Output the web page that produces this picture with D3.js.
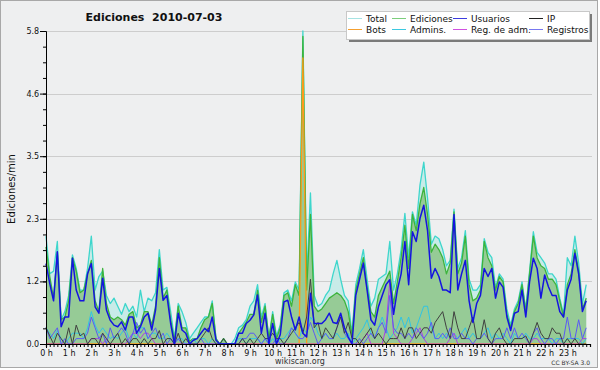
<!DOCTYPE html>
<html lang="es">
<head>
<meta charset="UTF-8">
<script src="https://cdn.jsdelivr.net/npm/d3@7"></script>
<style>
    body { margin: 0; background: #ffffff; }
    svg text { font-family: "DejaVu Sans", Verdana, sans-serif; fill: #111; }
</style>
</head>
<body>
<div id="chart"></div>
<script>
    // data: edits per minute, one value per 10 minutes (144 slots)
    const hourLabels = ["0 h","1 h","2 h","3 h","4 h","5 h","6 h","7 h","8 h","9 h","10 h","11 h",
        "12 h","13 h","14 h","15 h","16 h","17 h","18 h","19 h","20 h","21 h","22 h","23 h"];
    const yTicks = [0, 1.16, 2.32, 3.48, 4.64, 5.8];
    const yTickLabels = ["0.0", "1.2", "2.3", "3.5", "4.6", "5.8"];

    const total = [2.0,1.3,1.35,1.9,0.45,0.6,0.9,1.65,1.4,1.0,1.0,1.4,2.0,1.0,1.25,1.35,0.9,0.75,0.85,0.7,0.55,0.75,0.6,0.7,0.5,1.0,0.6,0.85,0.8,0.95,
        1.75,1.0,1.05,0.6,0.1,0.75,0.6,0.4,0.1,0.2,0.3,0.4,0.5,0.5,0.8,0.1,0,0.1,0,0,0.1,0.3,0.35,0.45,0.7,0.8,1.1,0.5,0.75,0.1,
        0.6,0.15,0.35,0.95,1.0,0.8,1.15,1.0,5.8,1.2,2.8,0.9,0.7,0.75,0.9,1.0,1.3,1.55,1.2,0.9,0.8,0.2,1.1,1.4,1.75,1.2,0.7,0.85,1.2,1.25,
        1.3,1.9,1.0,1.3,1.75,2.42,1.6,2.45,2.2,2.95,3.37,2.7,1.85,2.0,1.95,1.75,1.45,1.55,2.5,1.4,1.6,2.1,1.2,1.0,1.0,1.1,1.95,1.7,1.6,1.05,
        1.3,1.2,0.65,0.35,0.65,0.8,1.15,0.65,1.35,2.08,1.7,1.6,1.5,1.3,1.3,1.2,0.85,0.55,1.6,1.45,2.0,1.5,0.75,1.1];
    const ediciones = [1.8,1.25,0.85,1.7,0.45,0.5,0.8,1.6,1.35,0.95,1.0,1.3,1.55,0.8,0.6,1.4,0.75,0.5,0.45,0.5,0.45,0.35,0.55,0.6,0.3,0.35,0.6,0.6,0.35,0.7,
        1.6,0.85,1.0,0.45,0.05,0.7,0.3,0.3,0.05,0.1,0.1,0.3,0.45,0.5,0.75,0.1,0,0.1,0,0,0,0.2,0.3,0.4,0.55,0.55,1.0,0.4,0.7,0.1,
        0.55,0.1,0.3,0.9,0.95,0.7,1.1,0.9,5.7,1.0,2.4,0.7,0.6,0.65,0.75,0.85,0.9,0.95,0.9,0.8,0.6,0.15,1.0,1.3,1.6,1.05,0.6,0.5,0.9,1.05,
        1.2,1.35,0.75,1.15,1.6,2.2,1.4,2.4,2.1,2.6,2.9,2.4,1.7,1.85,1.75,1.6,1.3,1.5,2.45,1.3,1.5,2.0,1.1,0.8,0.85,1.0,1.9,1.6,1.45,1.0,
        1.25,1.15,0.55,0.3,0.6,0.75,1.1,0.6,1.3,2.0,1.6,1.45,1.4,1.2,1.2,1.1,0.8,0.5,1.1,1.3,1.75,1.35,0.65,0.85];
    const usuarios = [1.49,1.12,0.8,1.71,0.32,0.5,0.5,1.59,1.0,0.8,0.8,1.3,1.49,0.69,0.57,1.22,0.63,0.44,0.35,0.32,0.41,0.26,0.5,0.5,0.2,0.32,0.5,0.57,0.26,0.63,
        1.4,0.81,0.9,0.38,0,0.57,0.26,0.2,0,0.07,0.1,0.2,0.29,0.23,0.5,0.07,0,0,0,0,0,0.2,0.2,0.38,0.44,0.54,0.91,0.2,0.57,0,
        0.38,0,0.17,0.78,0.81,0.5,0.26,0.5,0.2,0.13,0.94,0.38,0.38,0.38,0.45,0.57,0.4,0.38,0.57,0.3,0.13,0,0.9,1.2,1.5,1.0,0.45,0.35,0.69,0.9,
        1.1,1.19,0.55,1.0,1.3,1.9,1.1,2.08,1.9,2.33,2.57,2.1,1.22,1.4,1.25,1.0,1.0,0.95,2.4,1.0,1.3,1.55,0.8,0.4,0.75,0.9,1.4,1.25,1.4,0.85,
        1.15,1.05,0.5,0.25,0.57,0.6,1.0,0.5,1.15,1.59,1.4,0.85,1.28,1.06,0.9,0.9,0.6,0.5,1.0,1.2,1.68,1.3,0.6,0.8];
    const ip = [0.3,0.15,0,0.2,0.1,0,0.3,0,0.35,0.15,0.2,0,0.1,0.1,0,0.2,0.1,0,0.1,0.2,0,0.1,0,0.1,0.1,0,0.1,0,0.1,0.1,
        0.25,0,0.1,0.1,0,0.2,0,0.1,0,0,0,0.1,0.2,0.3,0.1,0,0,0.1,0,0,0,0,0.1,0,0.1,0,0.1,0.2,0.1,0.1,
        0.2,0.1,0.1,0,0.1,0.2,0.3,0.4,0.2,0.5,1.2,0.3,0.4,0.1,0.3,0.2,0.1,0.3,0.5,0.2,0.4,0.1,0.1,0,0.1,0.2,0.3,0.1,0.2,0.1,
        0,0.1,0.1,0.1,0.3,0.1,0.3,0.3,0.1,0.2,0.3,0.3,0.2,0.4,0.5,0.6,0.3,0.1,0.6,0.3,0.1,0.1,0.3,0.5,0.1,0.1,0.45,0.1,0,0.2,
        0.3,0.1,0,0,0.1,0.1,0.1,0.15,0,0.2,0.4,0.2,0.1,0.1,0.3,0.2,0.2,0,0.1,0,0.1,0,0,0];
    const admins = [0.3,0.2,0.1,0.25,0.1,0,0.1,0.2,0.2,0.2,0.1,0.3,0.6,0.35,0.2,0.3,0.2,0.1,0.15,0.1,0.2,0.3,0.1,0.2,0.1,0.3,0.3,0.1,0.2,0.2,
        0.1,0.1,0.2,0.1,0,0.1,0.1,0,0,0.1,0,0.1,0.1,0,0.1,0,0,0,0,0,0,0.1,0.1,0,0.1,0.1,0.1,0,0.1,0,
        0.1,0,0.1,0.1,0.2,0.3,0.2,0.1,0.3,0.2,0.5,0.4,0.2,0.1,0.2,0.1,0.1,0.2,0.1,0.1,0.2,0,0.1,0.2,0.3,0.45,0.2,0.1,0.3,0.5,
        0.3,0.1,0.2,0.3,0.5,0.3,0.5,0.2,0.3,0.5,0.7,0.7,0.3,0.1,0.2,0.1,0.2,0.1,0.2,0.1,0.2,0.3,0.1,0.2,0.1,0.1,0.2,0.3,0.1,0.2,
        0.1,0.2,0.1,0,0.2,0.1,0.1,0.2,0.1,0.1,0.2,0.1,0.1,0.1,0,0.1,0.1,0,0.1,0.1,0.1,0.1,0,0.1];
    const registros = [0.3,0.1,0.2,0.3,0,0.1,0,0,0.1,0.1,0.1,0.2,0.5,0.3,0.1,0.2,0,0.3,0.1,0.2,0.3,0.2,0,0.2,0.4,0.2,0.3,0.1,0.2,0.3,
        0.1,0.2,0,0.1,0,0.1,0,0,0,0,0,0.1,0,0,0,0,0,0,0,0,0,0,0.1,0.1,0.2,0.2,0.1,0,0.1,0,
        0,0.1,0,0,0.1,0.3,0.2,0.1,0.1,0.2,0.4,0.2,0,0.1,0.2,0.1,0.1,0.3,0.55,0.2,0.1,0,0,0.1,0,0.1,0.2,0.1,0.3,0.4,
        0.2,0.9,0.3,0.2,0.2,0.1,0.2,0.1,0.3,0.2,0.1,0.2,0.4,0.1,0.1,0.2,0.1,0.3,0.1,0.1,0.2,0.1,0.1,0,0.1,0.1,0.2,0.1,0,0.1,
        0.1,0.1,0.3,0.1,0.3,0.1,0.2,0.1,0,0.2,0.3,0.1,0,0.1,0.1,0,0.1,0.1,0.5,0.1,0.1,0.45,0.1,0.3];
    const regAdm = [0,0,0,0,0,0,0,0,0,0,0,0,0.1,0.1,0.1,0,0.1,0,0,0,0,0,0.1,0.2,0.2,0.1,0.2,0.2,0.1,0,
        0,0,0,0,0,0,0,0,0,0,0,0,0,0,0,0,0,0,0,0,0,0,0,0,0,0,0,0,0,0,
        0,0,0,0,0,0,0,0,0,0,0,0,0,0,0,0,0,0,0,0,0,0,0,0,0.1,0.2,0,0,0,0,
        0.3,1.15,0.2,0.1,0,0,0,0.1,0.2,0.3,0.1,0,0,0,0,0,0,0.1,0.2,0,0,0,0,0,0,0,0,0,0,0,
        0,0,0,0,0,0,0,0,0,0.1,0.1,0,0,0,0,0,0,0,0,0,0,0,0.1,0.1];
    const bots = [0,0,0,0,0,0,0,0,0,0,0,0,0,0,0,0,0,0,0,0,0,0,0,0,0,0,0,0,0,0,
        0,0,0,0,0,0,0,0,0,0,0,0,0,0,0,0,0,0,0,0,0,0,0,0,0,0,0,0,0,0,
        0,0,0,0,0,0,0,0,5.3,0,0,0,0,0,0,0,0,0,0,0,0,0,0,0,0,0,0,0,0,0,
        0,0,0,0,0,0,0,0,0,0,0,0,0,0,0,0,0,0,0,0,0,0,0,0,0,0,0,0,0,0,
        0,0,0,0,0,0,0,0,0,0,0,0,0,0,0,0,0,0,0,0,0,0,0,0];

    const legendNames = ["Total", "Ediciones", "Usuarios", "IP", "Bots", "Admins.", "Reg. de adm.", "Registros"];
    const legendColors = ["#a6e3e3", "#7cce7c", "#3c3ce0", "#222222", "#f5a030", "#3cc8e0", "#d050e0", "#7878f0"];

    const width = 600, height = 370;
    const svg = d3.select("#chart").append("svg")
        .attr("width", width)
        .attr("height", height);

    // frame
    svg.append("rect")
        .attr("x", 0.5).attr("y", 0.5)
        .attr("width", 597).attr("height", 367)
        .attr("fill", "#eeeff0")
        .attr("stroke", "#a8a8a8");

    const x = d3.scaleLinear().domain([0, 24]).range([46, 590]);
    const y = d3.scaleLinear().domain([0, 5.8]).range([344, 31]);
    const t = i => i / 6; // slot -> hour

    // grid
    svg.append("g").selectAll("line")
        .data(yTicks.slice(1))
        .enter().append("line")
        .attr("x1", x(0)).attr("x2", 592)
        .attr("y1", d => Math.round(y(d)) + 0.5).attr("y2", d => Math.round(y(d)) + 0.5)
        .attr("stroke", "#cdcdcd");

    // areas
    const area = d3.area().x((d, i) => x(t(i))).y0(y(0)).y1(d => y(d));
    svg.append("path").datum(total).attr("d", area).attr("fill", "#c8ebe8");
    svg.append("path").datum(ediciones).attr("d", area).attr("fill", "#96cb96");

    const line = d3.line().x((d, i) => x(t(i))).y(d => y(d));
    const series = [
        { data: total, color: "#3ed6cc", w: 1.3 },
        { data: ediciones, color: "#3cb43c", w: 1.3 },
        { data: bots, color: "#ff9a1a", w: 1.3 },
        { data: admins, color: "#30c4e4", w: 1 },
        { data: regAdm, color: "#b040e0", w: 1 },
        { data: registros, color: "#5a5af5", w: 1 },
        { data: ip, color: "#404040", w: 1 },
        { data: usuarios, color: "#1414e0", w: 1.5 }
    ];
    series.forEach(s => {
        svg.append("path").datum(s.data)
            .attr("d", line)
            .attr("fill", "none")
            .attr("stroke", s.color)
            .attr("stroke-width", s.w)
            .attr("stroke-linejoin", "round");
    });

    // y axis
    const yAxis = svg.append("g").attr("transform", "translate(46,0)");
    yAxis.append("g")
        .call(d3.axisLeft(y).tickValues(d3.range(21).map(k => k * 5.8 / 20)).tickSize(3).tickFormat(""))
        .call(g => g.select(".domain").remove());
    yAxis.append("g")
        .call(d3.axisLeft(y).tickValues(yTicks).tickSize(6).tickPadding(0)
            .tickFormat((d, i) => yTickLabels[i]))
        .call(g => g.select(".domain").attr("stroke", "#000"))
        .call(g => g.selectAll("text").attr("font-size", 8).attr("dx", "-0.1em"));
    yAxis.selectAll("line").attr("stroke", "#000");

    // x axis
    const xAxis = svg.append("g").attr("transform", "translate(0,344)");
    xAxis.append("g")
        .call(d3.axisBottom(x).tickValues(d3.range(145).map(t)).tickSize(3).tickFormat(""))
        .call(g => g.select(".domain").attr("stroke", "#000").attr("stroke-width", 1.2));
    xAxis.append("g")
        .call(d3.axisBottom(x).tickValues(d3.range(24)).tickSize(4).tickPadding(2)
            .tickFormat((d, i) => hourLabels[i]))
        .call(g => g.select(".domain").remove())
        .call(g => g.selectAll("text").attr("font-size", 8));
    xAxis.selectAll("line").attr("stroke", "#000");

    // titles
    svg.append("text")
        .attr("x", 154).attr("y", 21)
        .attr("text-anchor", "middle")
        .attr("font-size", 11).attr("font-weight", "bold")
        .text("Ediciones  2010-07-03")
        .style("white-space", "pre");

    svg.append("text")
        .attr("transform", "translate(15,189) rotate(-90)")
        .attr("text-anchor", "middle")
        .attr("font-size", 10)
        .text("Ediciones/min");

    svg.append("text")
        .attr("x", 300).attr("y", 364)
        .attr("text-anchor", "middle")
        .attr("font-size", 8).style("fill", "#333")
        .text("wikiscan.org");

    svg.append("text")
        .attr("x", 590).attr("y", 365)
        .attr("text-anchor", "end")
        .attr("font-size", 6).style("fill", "#333")
        .text("CC BY-SA 3.0");

    // legend
    const legend = svg.append("g");
    legend.append("rect").attr("x", 349).attr("y", 14).attr("width", 243).attr("height", 28).attr("fill", "#7a7a7a");
    legend.append("rect").attr("x", 346.5).attr("y", 11.5).attr("width", 243).attr("height", 28)
        .attr("fill", "#fff").attr("stroke", "#c8c8c8");
    const colX = [348, 392, 453, 529];
    const rowY = [18.5, 29.5];
    legendNames.forEach((name, i) => {
        const cx = colX[i % 4], cy = rowY[Math.floor(i / 4)];
        legend.append("line")
            .attr("x1", cx).attr("x2", cx + 14)
            .attr("y1", cy).attr("y2", cy)
            .attr("stroke", legendColors[i]);
        legend.append("text")
            .attr("x", cx + 18).attr("y", cy + 3.5)
            .attr("font-size", 9)
            .text(name);
    });
</script>
</body>
</html>
